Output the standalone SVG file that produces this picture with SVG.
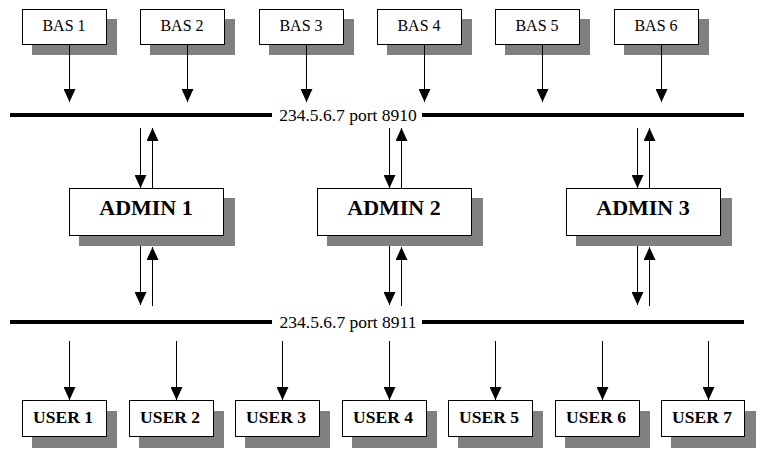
<svg xmlns="http://www.w3.org/2000/svg" width="760" height="454" viewBox="0 0 760 454" font-family="'Liberation Serif', 'Times New Roman', Times, 'DejaVu Serif', serif">
<style>
.box{fill:#fff;stroke:#000;stroke-width:1}
.sh{fill:#808080}
.bus{stroke:#000;stroke-width:4}
.ln{stroke:#000;stroke-width:1;fill:none}
text{font-family:'Liberation Serif','Times New Roman',Times,'DejaVu Serif',serif;text-anchor:middle;fill:#000}
.bas{font-size:16px}
.usr{font-size:17.5px;font-weight:bold}
.adm{font-size:22px;font-weight:bold}
.lbl{font-size:17.5px}
</style>
<defs>
<marker id="ah" viewBox="0 0 13 12" refX="13" refY="6" markerWidth="13" markerHeight="12" markerUnits="userSpaceOnUse" orient="auto">
<path d="M0,0 L13,6 L0,12 z" fill="#000"/>
</marker>
</defs>
<rect width="760" height="454" fill="#fff"/>

<g id="bus1">
<line class="bus" x1="10" y1="115" x2="744" y2="115"/>
<rect x="272" y="104" width="150" height="22" fill="#fff"/>
<text class="lbl" x="348" y="121">234.5.6.7 port 8910</text>
</g>
<g id="bus2">
<line class="bus" x1="10" y1="322" x2="744" y2="322"/>
<rect x="272" y="311" width="150" height="22" fill="#fff"/>
<text class="lbl" x="348" y="328">234.5.6.7 port 8911</text>
</g>

<g id="bas1"><rect class="sh" x="32" y="19" width="85" height="36"/><rect class="box" x="22.5" y="9.5" width="84" height="35"/><text class="bas" x="64" y="31">BAS 1</text></g>
<g id="bas2"><rect class="sh" x="150" y="19" width="85" height="36"/><rect class="box" x="140.5" y="9.5" width="84" height="35"/><text class="bas" x="182" y="31">BAS 2</text></g>
<g id="bas3"><rect class="sh" x="269" y="19" width="85" height="36"/><rect class="box" x="259.5" y="9.5" width="84" height="35"/><text class="bas" x="301" y="31">BAS 3</text></g>
<g id="bas4"><rect class="sh" x="387" y="19" width="85" height="36"/><rect class="box" x="377.5" y="9.5" width="84" height="35"/><text class="bas" x="419" y="31">BAS 4</text></g>
<g id="bas5"><rect class="sh" x="505" y="19" width="85" height="36"/><rect class="box" x="495.5" y="9.5" width="84" height="35"/><text class="bas" x="537" y="31">BAS 5</text></g>
<g id="bas6"><rect class="sh" x="624" y="19" width="85" height="36"/><rect class="box" x="614.5" y="9.5" width="84" height="35"/><text class="bas" x="656" y="31">BAS 6</text></g>

<g id="admin1"><rect class="sh" x="79" y="198" width="156" height="48"/><rect class="box" x="69.5" y="188.5" width="154" height="47"/><text class="adm" x="146" y="215">ADMIN 1</text></g>
<g id="admin2"><rect class="sh" x="327" y="198" width="156" height="48"/><rect class="box" x="317.5" y="188.5" width="154" height="47"/><text class="adm" x="394" y="215">ADMIN 2</text></g>
<g id="admin3"><rect class="sh" x="576" y="198" width="156" height="48"/><rect class="box" x="566.5" y="188.5" width="154" height="47"/><text class="adm" x="643" y="215">ADMIN 3</text></g>

<g id="user1"><rect class="sh" x="32" y="411" width="85" height="37"/><rect class="box" x="22.5" y="400.5" width="84" height="36"/><text class="usr" x="63" y="423">USER 1</text></g>
<g id="user2"><rect class="sh" x="139" y="411" width="85" height="37"/><rect class="box" x="129.5" y="400.5" width="84" height="36"/><text class="usr" x="170" y="423">USER 2</text></g>
<g id="user3"><rect class="sh" x="245" y="411" width="85" height="37"/><rect class="box" x="235.5" y="400.5" width="84" height="36"/><text class="usr" x="276" y="423">USER 3</text></g>
<g id="user4"><rect class="sh" x="352" y="411" width="85" height="37"/><rect class="box" x="342.5" y="400.5" width="84" height="36"/><text class="usr" x="383" y="423">USER 4</text></g>
<g id="user5"><rect class="sh" x="458" y="411" width="85" height="37"/><rect class="box" x="448.5" y="400.5" width="84" height="36"/><text class="usr" x="489" y="423">USER 5</text></g>
<g id="user6"><rect class="sh" x="565" y="411" width="85" height="37"/><rect class="box" x="555.5" y="400.5" width="84" height="36"/><text class="usr" x="596" y="423">USER 6</text></g>
<g id="user7"><rect class="sh" x="671" y="411" width="85" height="37"/><rect class="box" x="661.5" y="400.5" width="83" height="36"/><text class="usr" x="702" y="423">USER 7</text></g>

<g id="connectors">
<line class="ln" x1="69.5" y1="45" x2="69.5" y2="102" marker-end="url(#ah)"/>
<line class="ln" x1="187.5" y1="45" x2="187.5" y2="102" marker-end="url(#ah)"/>
<line class="ln" x1="306.5" y1="45" x2="306.5" y2="102" marker-end="url(#ah)"/>
<line class="ln" x1="424.5" y1="45" x2="424.5" y2="102" marker-end="url(#ah)"/>
<line class="ln" x1="542.5" y1="45" x2="542.5" y2="102" marker-end="url(#ah)"/>
<line class="ln" x1="661.5" y1="45" x2="661.5" y2="102" marker-end="url(#ah)"/>

<line class="ln" x1="140.5" y1="128" x2="140.5" y2="188" marker-end="url(#ah)"/>
<line class="ln" x1="152.5" y1="188" x2="152.5" y2="128" marker-end="url(#ah)"/>
<line class="ln" x1="389.5" y1="128" x2="389.5" y2="188" marker-end="url(#ah)"/>
<line class="ln" x1="401.5" y1="188" x2="401.5" y2="128" marker-end="url(#ah)"/>
<line class="ln" x1="637.5" y1="128" x2="637.5" y2="188" marker-end="url(#ah)"/>
<line class="ln" x1="649.5" y1="188" x2="649.5" y2="128" marker-end="url(#ah)"/>

<line class="ln" x1="140.5" y1="246" x2="140.5" y2="305" marker-end="url(#ah)"/>
<line class="ln" x1="152.5" y1="306" x2="152.5" y2="247" marker-end="url(#ah)"/>
<line class="ln" x1="389.5" y1="246" x2="389.5" y2="305" marker-end="url(#ah)"/>
<line class="ln" x1="401.5" y1="306" x2="401.5" y2="247" marker-end="url(#ah)"/>
<line class="ln" x1="637.5" y1="246" x2="637.5" y2="305" marker-end="url(#ah)"/>
<line class="ln" x1="649.5" y1="306" x2="649.5" y2="247" marker-end="url(#ah)"/>

<line class="ln" x1="69.5" y1="341" x2="69.5" y2="400" marker-end="url(#ah)"/>
<line class="ln" x1="176.5" y1="341" x2="176.5" y2="400" marker-end="url(#ah)"/>
<line class="ln" x1="282.5" y1="341" x2="282.5" y2="400" marker-end="url(#ah)"/>
<line class="ln" x1="389.5" y1="341" x2="389.5" y2="400" marker-end="url(#ah)"/>
<line class="ln" x1="495.5" y1="341" x2="495.5" y2="400" marker-end="url(#ah)"/>
<line class="ln" x1="602.5" y1="341" x2="602.5" y2="400" marker-end="url(#ah)"/>
<line class="ln" x1="708.5" y1="341" x2="708.5" y2="400" marker-end="url(#ah)"/>
</g>
</svg>
